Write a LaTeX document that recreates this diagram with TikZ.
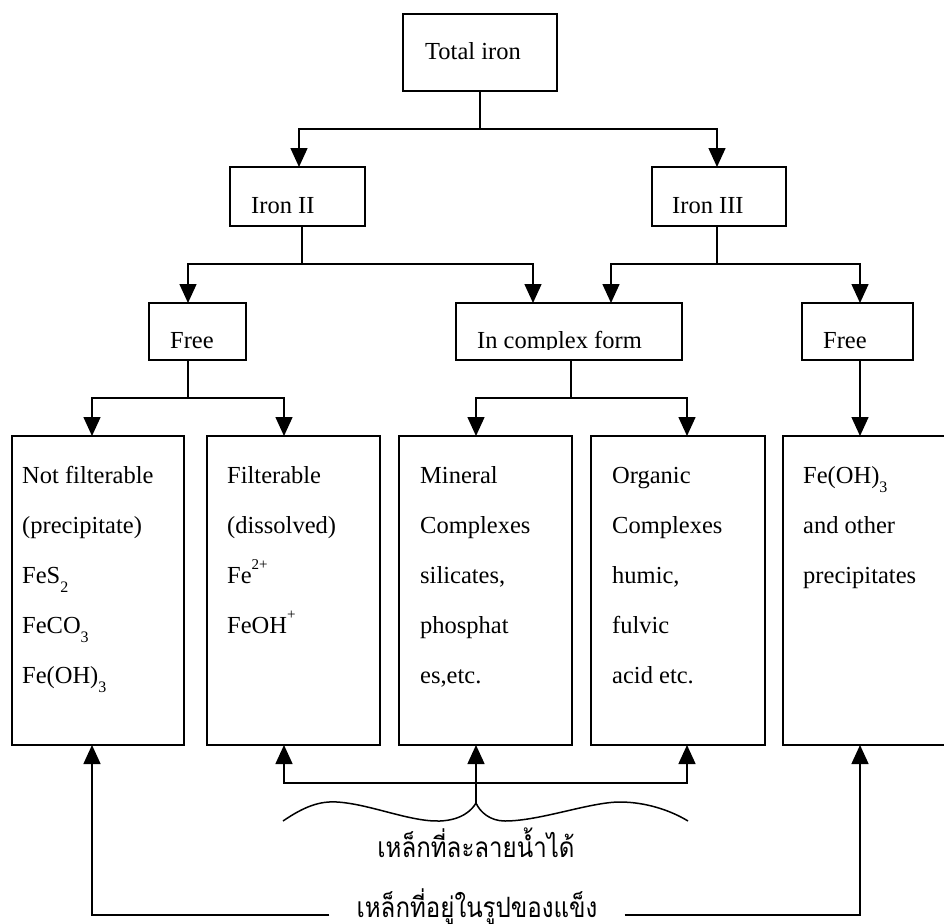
\documentclass[tikz,border=0pt]{standalone}
\usepackage{fontspec}
\setmainfont{Liberation Serif}
\newfontfamily\thaifont[Script=Thai,FakeStretch=0.86]{Loma}
\usetikzlibrary{arrows.meta,calc}
\newcommand{\lowidx}[1]{\raisebox{-9pt}{\fontsize{16}{16}\selectfont #1}}
\newcommand{\highidx}[1]{\raisebox{14pt}{\fontsize{15}{15}\selectfont #1}}

\begin{document}
\begin{tikzpicture}[x=1pt, y=-1pt,
  box/.style={draw, line width=1.8pt, inner sep=0pt, outer sep=0pt},
  ln/.style={line width=1.5pt},
  arr/.style={line width=1.5pt, -{Triangle[width=17pt,length=19pt]}},
  txt/.style={anchor=base west, inner sep=0pt, align=left,
    font=\fontsize{24.5}{50}\selectfont},
  thai/.style={anchor=base, inner sep=0pt, font=\thaifont\fontsize{28}{32}\selectfont}]
\clip (0,0) rectangle (944,923);
\fill[white] (0,0) rectangle (944,923);

\node[box, minimum width=154pt, minimum height=77pt] (tot) at (480,52.5) {};
\node[box, minimum width=135pt, minimum height=59pt] (fe2) at (297.5,196.5) {};
\node[box, minimum width=134pt, minimum height=59pt] (fe3) at (719,196.5) {};
\node[box, minimum width=97pt, minimum height=57pt] (free2) at (197.5,331.5) {};
\node[box, minimum width=226pt, minimum height=57pt] (cplx) at (569,331.5) {};
\node[box, minimum width=111pt, minimum height=57pt] (free3) at (857.5,331.5) {};
\node[box, minimum width=172pt, minimum height=309pt] (b1) at (98,590.5) {};
\node[box, minimum width=173pt, minimum height=309pt] (b2) at (293.5,590.5) {};
\node[box, minimum width=173pt, minimum height=309pt] (b3) at (485.5,590.5) {};
\node[box, minimum width=174pt, minimum height=309pt] (b4) at (678,590.5) {};
\node[box, minimum width=173pt, minimum height=309pt] (b5) at (869.5,590.5) {};

\node[txt] (tot-t) at (425,60) {Total iron};
\node[txt] (fe2-t) at (251,213) {Iron II};
\node[txt] (fe3-t) at (672,213) {Iron III};
\node[txt] (free2-t) at (170,348) {Free};
\begin{scope}
  \clip (456,303) rectangle (682,349);
  \node[txt] (cplx-t) at (477,348) {In complex form};
\end{scope}
\node[txt] (free3-t) at (823,348) {Free};

% base anchor sits on the last line
\node[txt] (b1-t) at (22,683) {Not filterable\\(precipitate)\\FeS\lowidx{2}\\FeCO\lowidx{3}\\Fe(OH)\lowidx{3}};
\node[txt] (b2-t) at (227,633) {Filterable\\(dissolved)\\Fe\highidx{2+}\\FeOH\highidx{+}};
\node[txt] (b3-t) at (420,683) {Mineral\\Complexes\\silicates,\\phosphat\\es,etc.};
\node[txt] (b4-t) at (612,683) {Organic\\Complexes\\humic,\\fulvic\\acid etc.};
\node[txt] (b5-t) at (803,583) {Fe(OH)\lowidx{3}\\and other\\precipitates};

\coordinate (j1) at (480,129);
\draw[ln] (tot.south) -- (j1);
\draw[arr] (j1) -| ([xshift=1.5pt]fe2.north);
\draw[arr] (j1) -| ([xshift=-2pt]fe3.north);

\coordinate (j2) at (302,264);
\draw[ln] ([xshift=4.5pt]fe2.south) -- (j2);
\draw[arr] (j2) -| ([xshift=-9.5pt]free2.north);
\draw[arr] (j2) -| ([xshift=-36pt]cplx.north);
\coordinate (j3) at (717,264);
\draw[ln] ([xshift=-2pt]fe3.south) -- (j3);
\draw[arr] (j3) -| ([xshift=42pt]cplx.north);
\draw[arr] (j3) -| ([xshift=2.5pt]free3.north);

\coordinate (j4) at (188,398);
\draw[ln] ([xshift=-9.5pt]free2.south) -- (j4);
\draw[arr] (j4) -| ([xshift=-6pt]b1.north);
\draw[arr] (j4) -| ([xshift=-9.5pt]b2.north);
\coordinate (j5) at (571,398);
\draw[ln] ([xshift=2pt]cplx.south) -- (j5);
\draw[arr] (j5) -| ([xshift=-9.5pt]b3.north);
\draw[arr] (j5) -| ([xshift=9pt]b4.north);
\draw[arr] ([xshift=2.5pt]free3.south) -- ([xshift=-9.5pt]b5.north);

\coordinate (tip) at (476,803);
\coordinate (j6) at (476,783);
\draw[arr] (tip) -- ([xshift=-9.5pt]b3.south);
\draw[arr] (j6) -| ([xshift=-9.5pt]b2.south);
\draw[arr] (j6) -| ([xshift=9pt]b4.south);
\draw[ln] (283,821) .. controls (305,806) and (320,801) .. (337,802)
  .. controls (370,804) and (410,822) .. (440,821)
  .. controls (462,820) and (472,810) .. (tip)
  .. controls (480,812) and (490,821) .. (505,821)
  .. controls (540,821) and (590,802) .. (620,802)
  .. controls (645,802) and (670,810) .. (688,821);

\node[thai] (sol) at (476,857) {เหล็กที่ละลายน้ำได้};
\node[thai, inner xsep=27pt] (solid) at (477,917) {เหล็กที่อยู่ในรูปของแข็ง};
\draw[arr] ([yshift=2pt]solid.base west) -| ([xshift=-6pt]b1.south);
\draw[arr] ([yshift=2pt]solid.base east) -| ([xshift=-9.5pt]b5.south);
\end{tikzpicture}
\end{document}
